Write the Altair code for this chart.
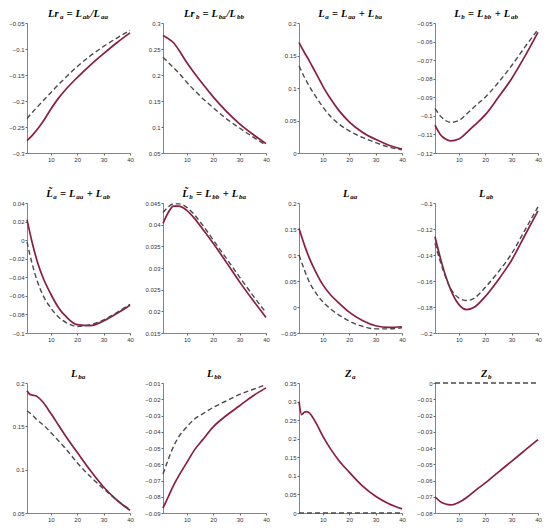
import re

import altair as alt
import pandas as pd

# horizon points
xs = [1, 3, 5, 7, 10, 13, 16, 20, 25, 30, 35, 40]
xs_fine = [1, 2, 3, 4, 5, 7, 10, 13, 16, 20, 25, 30, 35, 40]

lra_red = [-0.276, -0.266, -0.254, -0.240, -0.216, -0.194, -0.176, -0.155, -0.131, -0.109, -0.088, -0.069]
lra_gray = [-0.234, -0.222, -0.211, -0.200, -0.184, -0.168, -0.153, -0.134, -0.113, -0.095, -0.079, -0.064]
lrb_red = [0.276, 0.270, 0.262, 0.248, 0.224, 0.203, 0.183, 0.158, 0.130, 0.106, 0.086, 0.068]
lrb_gray = [0.234, 0.224, 0.214, 0.204, 0.186, 0.170, 0.155, 0.137, 0.116, 0.098, 0.081, 0.065]
la_red = [0.170, 0.155, 0.141, 0.126, 0.103, 0.083, 0.066, 0.048, 0.032, 0.021, 0.012, 0.006]
la_gray = [0.134, 0.117, 0.102, 0.089, 0.071, 0.056, 0.045, 0.034, 0.024, 0.016, 0.009, 0.005]
lb_red = [-0.105, -0.110, -0.1125, -0.1135, -0.1125, -0.109, -0.105, -0.0995, -0.090, -0.080, -0.068, -0.055]
lb_gray = [-0.096, -0.100, -0.1025, -0.1035, -0.1025, -0.099, -0.095, -0.090, -0.082, -0.073, -0.063, -0.0535]

lta_red = [0.022, -0.003, -0.024, -0.040, -0.058, -0.073, -0.083, -0.091, -0.092, -0.087, -0.079, -0.070]
lta_gray = [-0.002, -0.026, -0.045, -0.059, -0.073, -0.083, -0.089, -0.093, -0.091, -0.086, -0.078, -0.069]
ltb_red = [0.0403, 0.0428, 0.0443, 0.0443, 0.0433, 0.0414, 0.0390, 0.0357, 0.0313, 0.0268, 0.0226, 0.0186]
ltb_gray = [0.0428, 0.0441, 0.0448, 0.0448, 0.0440, 0.0422, 0.0399, 0.0365, 0.0322, 0.0279, 0.0237, 0.0197]
laa_red = [0.151, 0.120, 0.093, 0.071, 0.043, 0.023, 0.008, -0.010, -0.026, -0.036, -0.039, -0.038]
laa_gray = [0.100, 0.072, 0.047, 0.030, 0.010, -0.004, -0.015, -0.027, -0.037, -0.042, -0.042, -0.040]
lab_red = [-0.126, -0.142, -0.156, -0.167, -0.178, -0.182, -0.180, -0.172, -0.159, -0.144, -0.125, -0.106]
lab_gray = [-0.131, -0.145, -0.157, -0.166, -0.173, -0.175, -0.173, -0.165, -0.153, -0.139, -0.121, -0.103]

lba_red = [0.191, 0.187, 0.186, 0.1855, 0.184, 0.178, 0.165, 0.151, 0.137, 0.120, 0.099, 0.080, 0.065, 0.053]
lba_gray = [0.168, 0.163, 0.157, 0.152, 0.143, 0.133, 0.123, 0.108, 0.092, 0.078, 0.065, 0.054]
lbb_red = [-0.087, -0.080, -0.073, -0.067, -0.059, -0.051, -0.045, -0.037, -0.030, -0.024, -0.018, -0.013]
lbb_gray = [-0.066, -0.057, -0.049, -0.043, -0.037, -0.032, -0.029, -0.025, -0.021, -0.017, -0.014, -0.011]
za_red = [0.300, 0.265, 0.271, 0.273, 0.269, 0.248, 0.207, 0.172, 0.142, 0.110, 0.073, 0.045, 0.025, 0.011]
za_gray = [0, 0, 0, 0, 0, 0, 0, 0, 0, 0, 0, 0]
zb_red = [-0.070, -0.073, -0.0745, -0.075, -0.0735, -0.0705, -0.0665, -0.0615, -0.0548, -0.0482, -0.0415, -0.0348]
zb_gray = [0, 0, 0, 0, 0, 0, 0, 0, 0, 0, 0, 0]

titles = [
    "Lr_{a} = L_{ab}/L_{aa}", "Lr_{b} = L_{ba}/L_{bb}",
    "L_{a} = L_{aa} + L_{ba}", "L_{b} = L_{bb} + L_{ab}",
    "L\u0303_{a} = L_{aa} + L_{ab}", "L\u0303_{b} = L_{bb} + L_{ba}",
    "L_{aa}", "L_{ab}", "L_{ba}", "L_{bb}", "Z_{a}", "Z_{b}",
]
y_ticks = [
    [-0.3, -0.25, -0.2, -0.15, -0.1, -0.05], [0.05, 0.1, 0.15, 0.2, 0.25, 0.3],
    [0, 0.05, 0.1, 0.15, 0.2], [-0.12, -0.11, -0.1, -0.09, -0.08, -0.07, -0.06, -0.05],
    [-0.1, -0.08, -0.06, -0.04, -0.02, 0, 0.02, 0.04], [0.015, 0.02, 0.025, 0.03, 0.035, 0.04, 0.045],
    [-0.05, 0, 0.05, 0.1, 0.15, 0.2], [-0.2, -0.18, -0.16, -0.14, -0.12, -0.1],
    [0.05, 0.1, 0.15, 0.2], [-0.09, -0.08, -0.07, -0.06, -0.05, -0.04, -0.03, -0.02, -0.01],
    [0, 0.05, 0.1, 0.15, 0.2, 0.25, 0.3, 0.35], [-0.08, -0.07, -0.06, -0.05, -0.04, -0.03, -0.02, -0.01, 0],
]
series = [
    (xs, lra_red, xs, lra_gray), (xs, lrb_red, xs, lrb_gray),
    (xs, la_red, xs, la_gray), (xs, lb_red, xs, lb_gray),
    (xs, lta_red, xs, lta_gray), (xs, ltb_red, xs, ltb_gray),
    (xs, laa_red, xs, laa_gray), (xs, lab_red, xs, lab_gray),
    (xs_fine, lba_red, xs, lba_gray), (xs, lbb_red, xs, lbb_gray),
    (xs_fine, za_red, xs, za_gray), (xs, zb_red, xs, zb_gray),
]

RED = "#8c1d40"
GRAY = "#4a4a4a"
W, H = 103, 130
MAIN, SUB = 10.5, 7
# rough bold italic serif advance widths (em)
ADV = {"L": 0.68, "Z": 0.68, "r": 0.44, "a": 0.56, "b": 0.56, "=": 0.62, "+": 0.62, "/": 0.32}


def title_marks(tex):
    parts = re.split(r"_\{(\w+)\}", tex)
    pieces = []
    for i, p in enumerate(parts):
        if i % 2:
            pieces.append((p, SUB, -4))
        else:
            for j, w in enumerate(p.split(" ")):
                if j:
                    pieces.append((None, MAIN, 0))
                if w:
                    pieces.append((w, MAIN, -6.5))

    def adv(t, size):
        return size * (0.25 if t is None else sum(ADV.get(c, 0) for c in t))

    x = W / 2 - sum(adv(t, s) for t, s, _ in pieces) / 2
    marks = []
    for t, s, y in pieces:
        if t:
            marks.append(
                alt.Chart(alt.Data(values=[{}])).mark_text(
                    text=t, align="left", baseline="alphabetic",
                    font="Liberation Serif", fontStyle="italic", fontWeight="bold",
                    fontSize=s, color="black",
                ).encode(x=alt.value(x), y=alt.value(y))
            )
        x += adv(t, s)
    return marks


def panel(tex, ticks, sr):
    rx, ry, gx, gy = sr
    # tickCount high so vega does not thin out the explicit tick values
    xenc = alt.X("x:Q", title=None,
                 scale=alt.Scale(domain=[1, 40], nice=False, zero=False),
                 axis=alt.Axis(values=[10, 20, 30, 40], tickCount=20))
    yenc = alt.Y("y:Q", title=None,
                 scale=alt.Scale(domain=[ticks[0], ticks[-1]], nice=False, zero=False),
                 axis=alt.Axis(values=ticks, format="~g", tickCount=20))
    red = alt.Chart(pd.DataFrame({"x": rx, "y": ry})).mark_line(
        color=RED, strokeWidth=1.7, interpolate="monotone"
    ).encode(x=xenc, y=yenc)
    gray = alt.Chart(pd.DataFrame({"x": gx, "y": gy})).mark_line(
        color=GRAY, strokeWidth=1.4, strokeDash=[5, 3], interpolate="monotone"
    ).encode(x="x:Q", y="y:Q")
    return alt.layer(red, gray, *title_marks(tex)).properties(width=W, height=H)


panels = [panel(t, k, s) for t, k, s in zip(titles, y_ticks, series)]

chart = alt.concat(
    *panels, columns=4, spacing={"row": 50, "column": 33}, bounds="flush"
).properties(
    padding={"left": 0, "top": 0, "right": 0, "bottom": 0}
).configure_view(stroke=None).configure_axis(
    grid=False, domainColor="#666666", tickColor="#666666", domainWidth=0.8,
    tickSize=2, labelColor="#333333", labelFont="Liberation Sans",
    labelFontSize=6, labelPadding=1, labelFlush=False, labelOverlap=False,
)

chart.save("out.html", embed_options={"renderer": "svg", "actions": False})
